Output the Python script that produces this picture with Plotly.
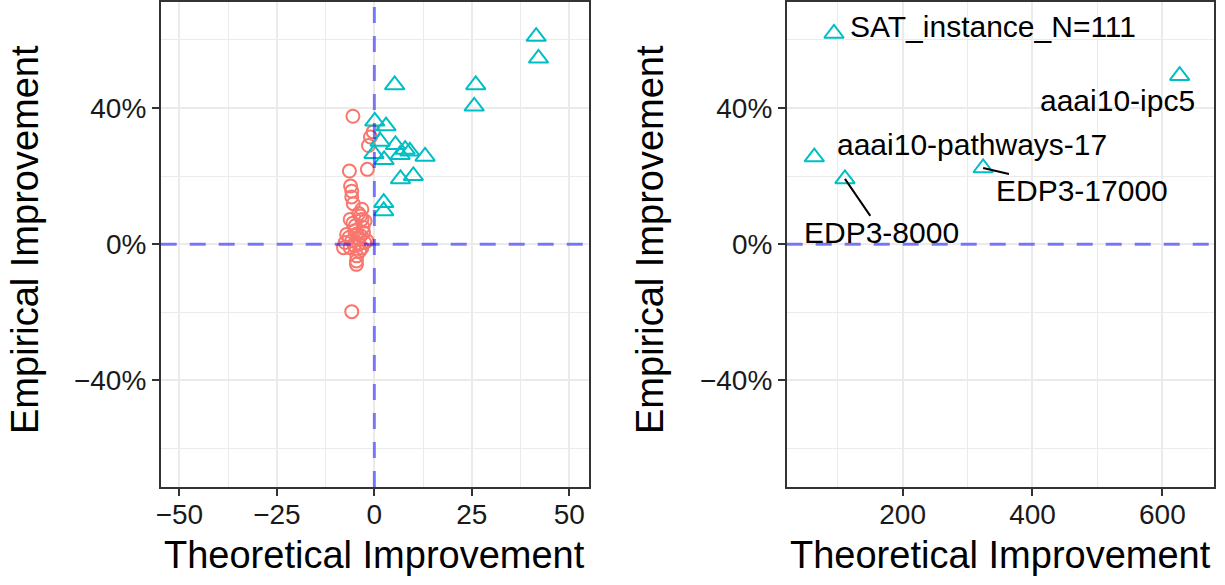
import plotly.graph_objects as go

# ---- data ---------------------------------------------------------------
# instances where theory predicts a loss (left panel, circles)
worse_theory = [-5.5, -0.3, -1.0, -1.5, -1.8, -6.4, -6.1, -5.8, -5.8, -5.4,
                -3.2, -4.0, -3.6, -6.2, -3.2, -2.4, -5.5, -4.9, -2.9, -5.0,
                -2.8, -7.1, -4.5, -3.5, -6.5, -4.1, -5.8, -1.9, -7.5, -2.5,
                -4.0, -5.2, -7.9, -6.2, -3.2, -3.8, -4.5, -4.6, -4.6, -5.8]
worse_empirical = [0.376, 0.330, 0.315, 0.290, 0.220, 0.215, 0.171, 0.156, 0.139, 0.119,
                   0.103, 0.090, 0.083, 0.073, 0.073, 0.068, 0.062, 0.054, 0.050, 0.040,
                   0.034, 0.029, 0.030, 0.025, 0.020, 0.015, 0.010, 0.010, 0.005, 0.005,
                   0.000, -0.003, -0.010, -0.010, -0.010, -0.020, -0.034, -0.049, -0.059, -0.198]

# instances where theory predicts a gain (left panel, triangles)
better_theory = [41.5, 42.1, 5.2, 26.0, 25.6, 0.1, 3.0, 1.5, -0.1, 5.4,
                 2.5, 7.9, 9.1, 6.6, 13.0, 6.7, 10.0, 2.4, 2.4]
better_empirical = [0.610, 0.546, 0.468, 0.468, 0.405, 0.361, 0.347, 0.302, 0.266, 0.292,
                    0.248, 0.278, 0.273, 0.263, 0.258, 0.192, 0.201, 0.122, 0.098]

# outliers with very large theoretical improvement (right panel)
outlier_names = ["SAT_instance_N=111", "aaai10-ipc5", "aaai10-pathways-17",
                 "EDP3-8000", "EDP3-17000"]
outlier_theory = [94.3, 626.6, 64.0, 111.2, 324.0]
outlier_empirical = [0.619, 0.495, 0.256, 0.192, 0.224]

# axis ticks
left_xticks = [-50, -25, 0, 25, 50]
right_xticks = [200, 400, 600]
yticks = [-0.4, 0.0, 0.4]

# ---- styling ------------------------------------------------------------
FONT = "Liberation Sans, Arial, Helvetica, sans-serif"
RED = "#F8766D"
TEAL = "#00BFC4"
GRID = "#EBEBEB"
FRAME = "#333333"
REF = "rgba(0,0,255,0.5)"

W, H = 1225, 585
px = lambda v: v / W
py = lambda v: 1 - v / H

fig = go.Figure()

fig.add_trace(go.Scatter(
    x=worse_theory, y=worse_empirical, mode="markers",
    marker=dict(symbol="circle-open", size=13, color=RED, line=dict(width=2, color=RED)),
    xaxis="x", yaxis="y", showlegend=False))
fig.add_trace(go.Scatter(
    x=better_theory, y=better_empirical, mode="markers",
    marker=dict(symbol="triangle-up-open", size=17, color=TEAL, line=dict(width=2, color=TEAL)),
    xaxis="x", yaxis="y", showlegend=False))
fig.add_trace(go.Scatter(
    x=outlier_theory, y=outlier_empirical, mode="markers",
    marker=dict(symbol="triangle-up-open", size=17, color=TEAL, line=dict(width=2, color=TEAL)),
    xaxis="x2", yaxis="y2", showlegend=False))

common_axis = dict(
    showgrid=True, gridcolor=GRID, gridwidth=2,
    showline=True, linecolor=FRAME, linewidth=1.5, mirror=True,
    ticks="outside", ticklen=7, tickwidth=2, tickcolor=FRAME,
    tickfont=dict(family=FONT, size=28, color="#1a1a1a"),
    zeroline=False, automargin=False, fixedrange=True,
)

ydom = [py(487), py(1.5)]

fig.update_layout(
    width=W, height=H,
    margin=dict(l=0, r=0, t=0, b=0),
    paper_bgcolor="white", plot_bgcolor="white",
    xaxis=dict(common_axis, domain=[px(160.7), px(589)], range=[-54.8, 55.05],
               tickmode="array", tickvals=left_xticks, ticklabelstandoff=-5,
               minor=dict(tickmode="array", tickvals=[-37.5, -12.5, 12.5, 37.5],
                          showgrid=True, gridcolor=GRID, gridwidth=1.2, ticks=""),
               anchor="y"),
    yaxis=dict(common_axis, domain=ydom, range=[-0.713, 0.713],
               tickmode="array", tickvals=yticks, tickformat=".0%",
               minor=dict(tickmode="array", tickvals=[-0.6, -0.2, 0.2, 0.6],
                          showgrid=True, gridcolor=GRID, gridwidth=1.2, ticks=""),
               anchor="x"),
    xaxis2=dict(common_axis, domain=[px(786.7), px(1214)], range=[21.5, 679.5],
                tickmode="array", tickvals=right_xticks, ticklabelstandoff=-5,
                minor=dict(tickmode="array", tickvals=[100, 300, 500],
                           showgrid=True, gridcolor=GRID, gridwidth=1.2, ticks=""),
                anchor="y2"),
    yaxis2=dict(common_axis, domain=ydom, range=[-0.713, 0.713],
                tickmode="array", tickvals=yticks, tickformat=".0%",
                minor=dict(tickmode="array", tickvals=[-0.6, -0.2, 0.2, 0.6],
                           showgrid=True, gridcolor=GRID, gridwidth=1.2, ticks=""),
                anchor="x2"),
)

# dashed reference lines at zero
dash = dict(color=REF, width=3, dash="16px,13px")
fig.add_shape(type="line", xref="x", yref="y domain", x0=0, x1=0, y0=0, y1=1, line=dash)
fig.add_shape(type="line", xref="x domain", yref="y", x0=0, x1=1, y0=0, y1=0, line=dash)
fig.add_shape(type="line", xref="x2 domain", yref="y2", x0=0, x1=1, y0=0, y1=0, line=dash)

# repelled labels for the outliers: (dx, dy) pixel offsets, segment visibility
label_offsets = [(159, -7, False), (-62, 25, False), (158, -13, False),
                 (37, 54, True), (99, 23, True)]
for name, xv, yv, (dx, dy, seg) in zip(outlier_names, outlier_theory, outlier_empirical, label_offsets):
    fig.add_annotation(
        x=xv, y=yv, xref="x2", yref="y2", text=name,
        showarrow=True, ax=dx, ay=dy, axref="pixel", ayref="pixel",
        arrowhead=0, arrowwidth=2, standoff=0, borderpad=0,
        arrowcolor="black" if seg else "rgba(0,0,0,0)",
        font=dict(family=FONT, size=30, color="black"),
    )

# axis titles
title_font = dict(family=FONT, size=38, color="black")
for xc in (px((160.7 + 589) / 2), px((786.7 + 1214) / 2)):
    fig.add_annotation(x=xc, y=py(555), xref="paper", yref="paper",
                       text="Theoretical Improvement", showarrow=False,
                       xanchor="center", yanchor="middle", font=title_font)
for xc in (px(25), px(650)):
    fig.add_annotation(x=xc, y=py(240), xref="paper", yref="paper",
                       text="Empirical Improvement", showarrow=False, textangle=-90,
                       xanchor="center", yanchor="middle", font=title_font)

fig.write_html("out.html")
